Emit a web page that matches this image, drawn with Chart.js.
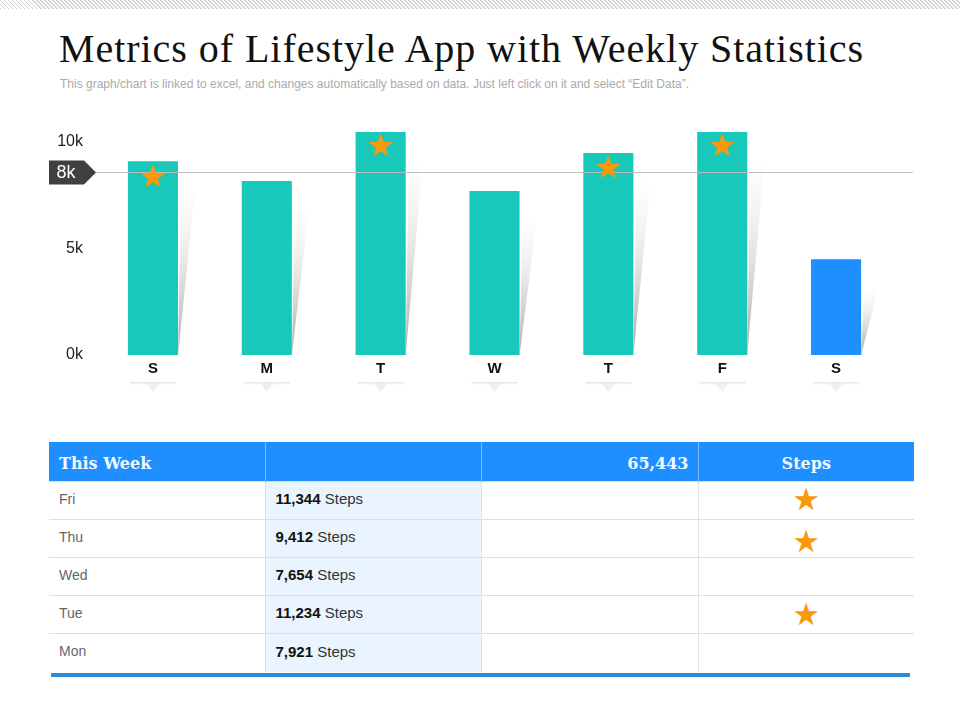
<!DOCTYPE html>
<html>
<head>
<meta charset="utf-8">
<title>Metrics of Lifestyle App with Weekly Statistics</title>
<script src="https://cdn.jsdelivr.net/npm/chart.js@4"></script>
<style>
    html, body { margin: 0; padding: 0; background: #fff; }
    #page { position: relative; width: 960px; height: 720px; overflow: hidden; font-family: "Liberation Sans", sans-serif; }
    #hatch { position: absolute; left: 0; top: 0; width: 960px; height: 9px;
        background: repeating-linear-gradient(45deg, #d2d2d2 0, #d2d2d2 1.4px, #fff 1.4px, #fff 2.83px); }
    h1 { position: absolute; left: 59px; top: 25px; margin: 0; white-space: nowrap;
        font: normal 40px "Liberation Serif", serif; letter-spacing: 0.95px; color: #111; }
    #sub { position: absolute; left: 60px; top: 77px; white-space: nowrap; font-size: 12px; color: #aaa; }
    #chartBox { position: absolute; left: 0; top: 110px; width: 960px; height: 310px; }
    table { position: absolute; left: 49px; top: 442px; width: 865px; border-collapse: collapse; table-layout: fixed; }
    th { background: #1f8eff; color: #f2f9ff; height: 36px; padding: 3px 0 0 0; border-left: 1px solid #79bbff;
        font: bold 16px "DejaVu Serif", serif; }
    th:first-child, td:first-child { border-left: none; }
    td { height: 33px; padding: 0 0 4px 10px; border-top: 1px solid #dedede; border-left: 1px solid #e2e2e2;
        font-size: 15px; color: #333; }
    tr:last-child td { height: 34px; }
    td.day { color: #666; font-size: 14px; }
    td.val { background: #eaf4fe; border-left-color: #d5dfea; }
    td.val b { color: #111; }
    td.star { padding: 0; text-align: center; font: 31px "DejaVu Sans", sans-serif; line-height: 30px; color: #f7990c; }
    td.star span { position: relative; }
    tr:nth-child(2) td.star span { top: -2px; }
    tr:nth-child(3) td.star span { top: 2px; }
    tr:nth-child(5) td.star span { top: -1px; }
    #foot { position: absolute; left: 51px; top: 673px; width: 859px; height: 4px; background: #2e8bd8; }
</style>
</head>
<body>
<div id="page">
    <div id="hatch"></div>
    <h1>Metrics of Lifestyle App with Weekly Statistics</h1>
    <div id="sub">This graph/chart is linked to excel, and changes automatically based on data. Just left click on it and select “Edit Data”.</div>
    <div id="chartBox"><canvas id="stepsChart"></canvas></div>
    <table id="weekTable"></table>
    <div id="foot"></div>
</div>

<script>
// Data for the chart, in thousands of steps
const dayLabels = ['S', 'M', 'T', 'W', 'T', 'F', 'S'];
const stepValues = [9.1, 8.17, 10.47, 7.7, 9.48, 10.47, 4.5];
const starValues = [8.4, null, 9.86, null, 8.83, 9.86, null];
const yTickValues = [0, 5, 10];
const goalValue = 8.59;
const goalLabel = '8k';

// Data for the table below the chart
const tableHeader = ['This Week', '', '65,443', 'Steps'];
const tableDays = ['Fri', 'Thu', 'Wed', 'Tue', 'Mon'];
const tableSteps = ['11,344', '9,412', '7,654', '11,234', '7,921'];
const tableStars = [true, true, false, true, false];

const TEAL = '#18c8ba';
const BLUE = '#1f8eff';
const ORANGE = '#f7990c';

// Five pointed star used as a point style, Chart.js only has the crossed one
function makeStar(size) {
    let canvas = document.createElement('canvas');
    canvas.width = size;
    canvas.height = size;
    let ctx = canvas.getContext('2d');
    ctx.fillStyle = ORANGE;
    ctx.beginPath();
    for (let i = 0; i < 10; i++) {
        let r = i % 2 === 0 ? size / 2 : size * 0.2;
        let a = -Math.PI / 2 + i * Math.PI / 5;
        ctx.lineTo(size / 2 + r * Math.cos(a), size / 2 + r * Math.sin(a) + size * 0.04);
    }
    ctx.closePath();
    ctx.fill();
    return canvas;
}

// Soft wedge to the right of the bars and the little callouts under the day labels
const decorPlugin = {
    id: 'decor',
    beforeDatasetsDraw(chart) {
        let ctx = chart.ctx;
        chart.getDatasetMeta(0).data.forEach(bar => {
            let right = bar.x + bar.width / 2;
            let top = bar.y + 30;
            let gradient = ctx.createLinearGradient(0, bar.base, 0, top);
            gradient.addColorStop(0, 'rgba(175,175,175,1)');
            gradient.addColorStop(0.5, 'rgba(222,222,222,0.9)');
            gradient.addColorStop(1, 'rgba(250,250,250,0.3)');
            ctx.save();
            ctx.fillStyle = gradient;
            ctx.beginPath();
            ctx.moveTo(right, bar.base);
            ctx.lineTo(right + 3, top);
            ctx.lineTo(right + 17, top);
            ctx.closePath();
            ctx.fill();
            ctx.restore();
        });
    },
    beforeDraw(chart) {
        let ctx = chart.ctx;
        let bottom = chart.chartArea.bottom;
        chart.getDatasetMeta(0).data.forEach(bar => {
            let left = bar.x - 23;
            ctx.save();
            let gradient = ctx.createLinearGradient(0, bottom + 27, 0, bottom + 31);
            gradient.addColorStop(0, 'rgba(215,215,215,0.8)');
            gradient.addColorStop(1, 'rgba(255,255,255,0)');
            ctx.fillStyle = gradient;
            ctx.fillRect(left, bottom + 27, 46, 4);
            ctx.fillStyle = 'rgba(238,238,238,0.9)';
            ctx.beginPath();
            ctx.moveTo(bar.x - 7, bottom + 28);
            ctx.lineTo(bar.x + 7, bottom + 28);
            ctx.lineTo(bar.x, bottom + 37);
            ctx.closePath();
            ctx.fill();
            ctx.restore();
        });
    },
    // line goes above the bars but under the stars
    afterDatasetDraw(chart, args) {
        if (args.index !== 0) {
            return;
        }
        let ctx = chart.ctx;
        let y = Math.round(chart.scales.y.getPixelForValue(goalValue)) + 0.5;
        ctx.save();
        ctx.strokeStyle = 'rgba(190,190,190,0.95)';
        ctx.lineWidth = 1;
        ctx.beginPath();
        ctx.moveTo(96, y);
        ctx.lineTo(913, y);
        ctx.stroke();
        ctx.fillStyle = '#404040';
        ctx.beginPath();
        ctx.moveTo(49, y - 12);
        ctx.lineTo(84, y - 12);
        ctx.lineTo(96, y);
        ctx.lineTo(84, y + 12);
        ctx.lineTo(49, y + 12);
        ctx.closePath();
        ctx.fill();
        ctx.fillStyle = '#fff';
        ctx.font = '18px "Liberation Sans"';
        ctx.textAlign = 'center';
        ctx.textBaseline = 'middle';
        ctx.fillText(goalLabel, 66, y + 1);
        ctx.restore();
    }
};

function DrawChart() {
    let ctx = document.getElementById('stepsChart').getContext('2d');
    new Chart(ctx, {
        data: {
            labels: dayLabels,
            datasets: [{
                type: 'bar',
                data: stepValues,
                backgroundColor: dayLabels.map((d, i) => i === dayLabels.length - 1 ? BLUE : TEAL),
                categoryPercentage: 1,
                barPercentage: 0.44,
                order: 2
            }, {
                type: 'line',
                data: starValues,
                showLine: false,
                pointStyle: makeStar(26),
                pointRadius: 13,
                order: 1
            }]
        },
        options: {
            responsive: false,
            animation: false,
            layout: { padding: { top: 22, right: 67 } },
            plugins: { legend: { display: false }, tooltip: { enabled: false } },
            scales: {
                x: {
                    grid: { display: false, drawTicks: false },
                    border: { display: false },
                    ticks: { color: '#111', font: { family: 'Liberation Sans', size: 15, weight: 'bold' }, padding: 5, autoSkip: false, maxRotation: 0 },
                    afterFit: scale => { scale.height = 65; }
                },
                y: {
                    min: 0,
                    max: 10.47,
                    grid: { display: false },
                    border: { display: false },
                    afterBuildTicks: scale => { scale.ticks = yTickValues.map(v => ({ value: v })); },
                    ticks: { color: '#222', font: { family: 'Liberation Sans', size: 16 }, padding: 5, callback: v => v + 'k' },
                    afterFit: scale => { scale.width = 96; }
                }
            }
        },
        plugins: [decorPlugin]
    });
}

function FillTable() {
    let html = '<colgroup><col style="width:216px"><col style="width:216px"><col style="width:217px"><col style="width:216px"></colgroup>';
    html += '<tr><th style="text-align:left;padding-left:10px">' + tableHeader[0] + '</th><th>' + tableHeader[1] + '</th>'
        + '<th style="text-align:right;padding-right:9px">' + tableHeader[2] + '</th><th>' + tableHeader[3] + '</th></tr>';
    tableDays.forEach((day, i) => {
        html += '<tr><td class="day">' + day + '</td><td class="val"><b>' + tableSteps[i] + '</b> Steps</td><td></td>'
            + '<td class="star"><span>' + (tableStars[i] ? '★' : '') + '</span></td></tr>';
    });
    document.getElementById('weekTable').innerHTML = html;
}

let chartCanvas = document.getElementById('stepsChart');
chartCanvas.width = 960;
chartCanvas.height = 310;
DrawChart();
FillTable();
</script>
</body>
</html>
